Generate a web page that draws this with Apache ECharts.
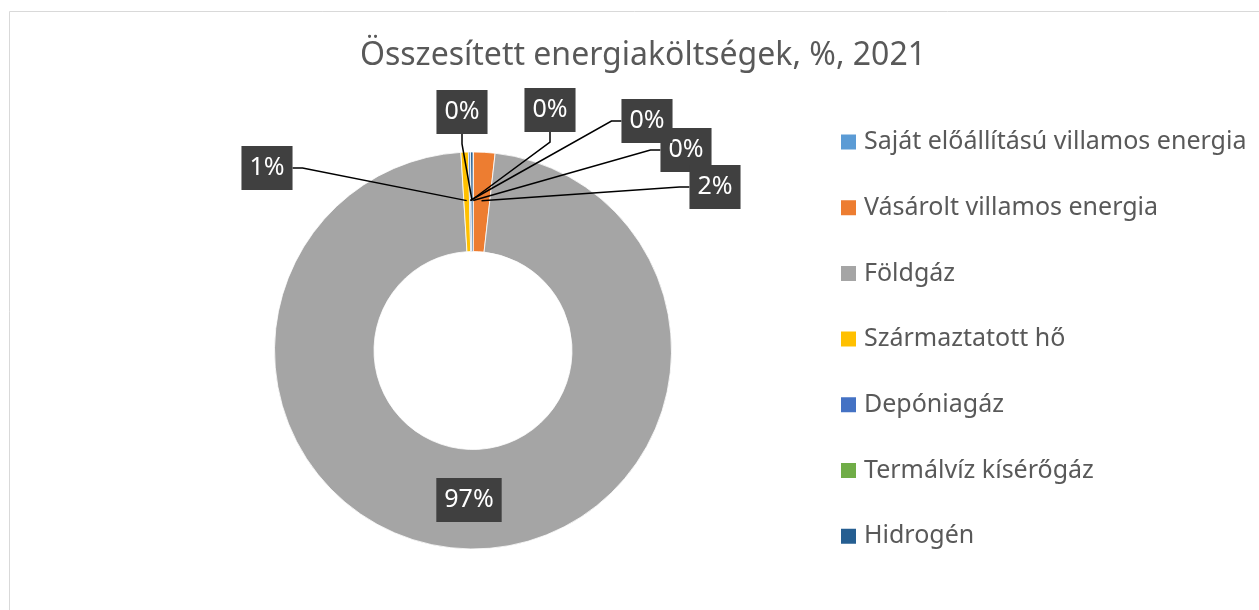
<!DOCTYPE html>
<html>
<head>
<meta charset="utf-8">
<script src="https://cdn.jsdelivr.net/npm/echarts@6/dist/echarts.min.js"></script>
<style>
  html, body { margin: 0; padding: 0; background: #fff; }
  #main { width: 1259px; height: 610px; }
</style>
</head>
<body>
<div id="main"></div>
<script>
// adatok
var categories = ['Saját előállítású villamos energia', 'Vásárolt villamos energia', 'Földgáz',
    'Származtatott hő', 'Depóniagáz', 'Termálvíz kísérőgáz', 'Hidrogén'];
var shares = [0.03, 1.75, 97.25, 0.6, 0.15, 0.02, 0.2];
var colors = ['#5B9BD5', '#ED7D31', '#A5A5A5', '#FFC000', '#4472C4', '#70AD47', '#255E91'];

// cimkek helye (kézzel húzva, mint az eredetin)
var labelPos = [[686, 150], [715, 187], [469, 500], [267, 168], [647, 121], [550, 110], [462, 112]];

var myChart = echarts.init(document.getElementById('main'));

var pieData = [];
for (var i = 0; i < categories.length; i++) {
    pieData.push({ name: categories[i], value: shares[i], itemStyle: { color: colors[i] } });
}
var labelData = [];
for (var i = 0; i < categories.length; i++) {
    labelData.push({
        name: categories[i],
        value: shares[i],
        labelLine: { show: i != 2 }
    });
}

var option = {
    animation: false,
    graphic: [{
        type: 'rect',
        shape: { x: 9.5, y: 11.5, width: 1400, height: 800 },
        style: { fill: 'none', stroke: '#d9d9d9', lineWidth: 1 },
        silent: true
    }],
    title: {
        text: 'Összesített energiaköltségek, %, 2021',
        left: 638,
        textAlign: 'center',
        top: 35,
        textStyle: {
            fontFamily: 'Noto Sans',
            fontSize: 32,
            fontWeight: 'normal',
            color: '#595959'
        }
    },
    legend: {
        orient: 'vertical',
        left: 839,
        top: 129.5,
        padding: 0,
        itemWidth: 17,
        itemHeight: 17,
        itemGap: 40.7,
        icon: 'rect',
        data: categories,
        textStyle: {
            fontFamily: 'Noto Sans',
            fontSize: 25,
            lineHeight: 25,
            color: '#595959',
            padding: [0, 0, 0, 2]
        }
    },
    series: [
        {
            name: 'energia',
            type: 'pie',
            center: [473, 350.5],
            radius: [99, 198.5],
            startAngle: 90,
            clockwise: true,
            silent: true,
            z: 2,
            itemStyle: { borderColor: '#fff', borderWidth: 0.8 },
            label: { show: false },
            labelLine: { show: false },
            data: pieData
        },
        {
            // láthatatlan kör, csak a címkék és vezetővonalak miatt
            name: 'cimkek',
            type: 'pie',
            center: [473, 350.5],
            radius: [0, 150],
            startAngle: 90,
            clockwise: true,
            silent: true,
            z: 5,
            legendHoverLink: false,
            itemStyle: { color: 'rgba(0,0,0,0)' },
            label: {
                show: true,
                position: 'outside',
                formatter: function (p) { return Math.round(p.value) + '%'; },
                fontFamily: 'Noto Sans',
                fontSize: 25,
                lineHeight: 26,
                color: '#fff',
                backgroundColor: '#404040',
                padding: [9, 8]
            },
            labelLine: {
                show: true,
                length: 10,
                length2: 10,
                lineStyle: { color: '#000', width: 1.5 }
            },
            labelLayout: function (params) {
                var p = labelPos[params.dataIndex];
                return { x: p[0], y: p[1], align: 'center', verticalAlign: 'middle' };
            },
            data: labelData
        }
    ]
};

myChart.setOption(option);
</script>
</body>
</html>
